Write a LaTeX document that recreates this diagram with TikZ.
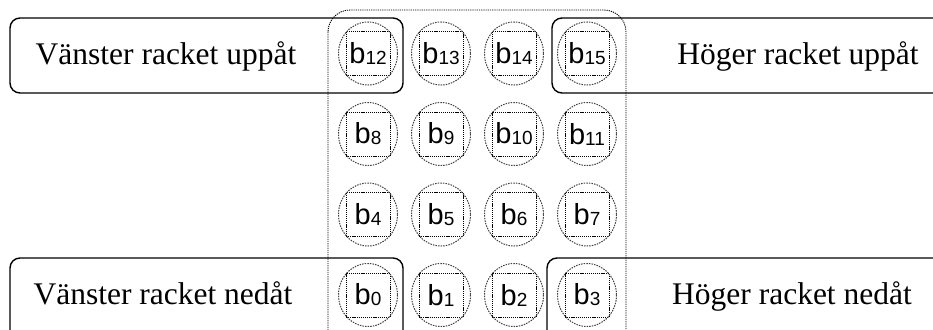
\documentclass[tikz,border=0pt]{standalone}
\usepackage{fontspec}
\setmainfont{Liberation Serif}
\setsansfont{Liberation Sans}
\tikzset{
  racket/.style={draw=black, line width=1.4pt, rounded corners=10pt},
  field/.style={draw=black, line width=0.9pt, dash pattern=on 1.2pt off 1pt, rounded corners=22pt},
  ballbox/.style={draw=black, line width=0.9pt, dash pattern=on 1.2pt off 0.9pt, minimum size=44pt, inner sep=0pt, font=\sffamily\fontsize{29}{29}\selectfont},
  ballring/.style={draw=black!75, line width=1pt, dash pattern=on 1.5pt off 1.1pt},
  racketlabel/.style={anchor=base, font=\fontsize{31.5}{32}\selectfont}
}
\begin{document}
\begin{tikzpicture}[x=1pt,y=-1pt]
    \useasboundingbox (0,0) rectangle (933,329);
    \clip (0,0) rectangle (933,329);
    % play field
    \draw[field] (328,10) rectangle (626,360);
    % rackets
    \draw[racket] (10,18) rectangle (403,93);
    \draw[racket] (552,18) rectangle (960,93);
    \draw[racket] (10,258) rectangle (403,360);
    \draw[racket] (547,258) rectangle (960,360);
    \node[racketlabel] (vup) at (166,64) {Vänster racket uppåt};
    \node[racketlabel] (hup) at (798,64) {Höger racket uppåt};
    \node[racketlabel] (vned) at (163,304) {Vänster racket nedåt};
    \node[racketlabel] (hned) at (792,304) {Höger racket nedåt};
    % balls b0..b15
    \foreach \row in {0,...,3}
        \foreach \col in {0,...,3}{
            \pgfmathtruncatemacro{\n}{4*\row+\col}
            \node[ballbox] (b\n) at (368+73*\col,295-80.5*\row)
                {b{\fontsize{19}{19}\selectfont\raisebox{-1pt}{\n}}};
            \draw[ballring] (b\n.center) ellipse [x radius=29.5, y radius=31.5];
        }
\end{tikzpicture}
\end{document}
